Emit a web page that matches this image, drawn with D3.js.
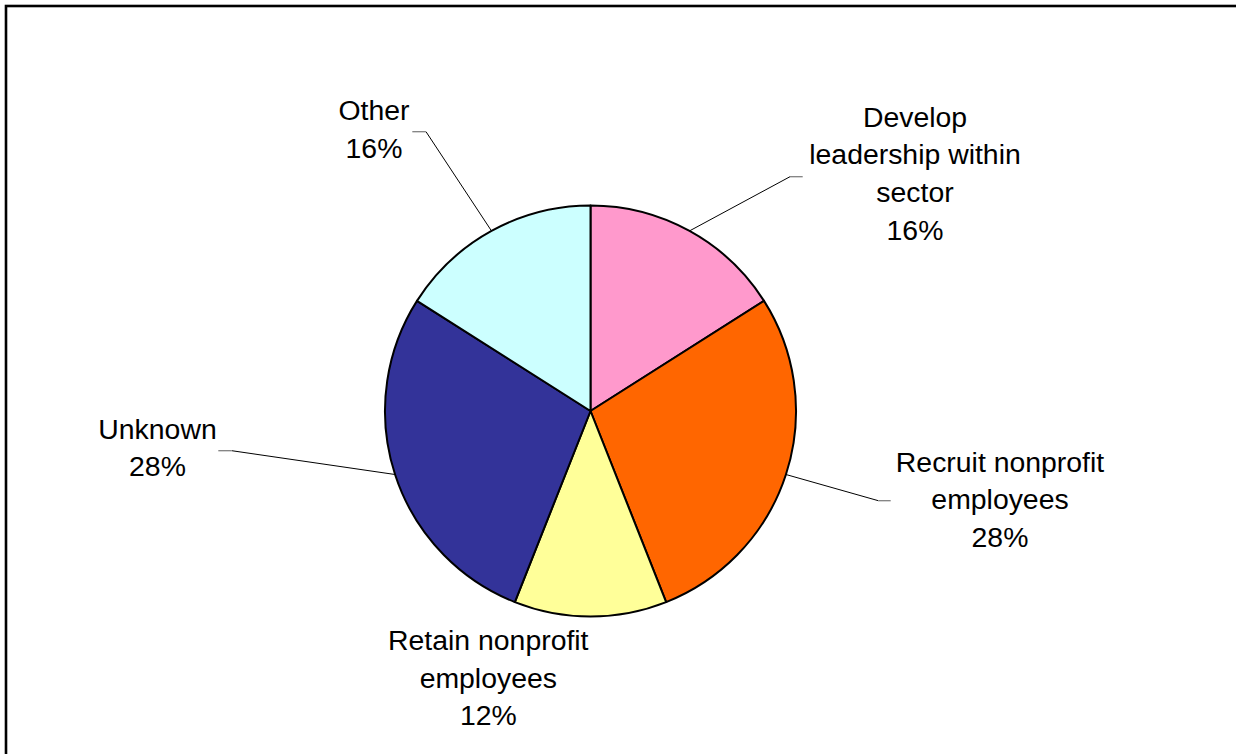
<!DOCTYPE html>
<html>
<head>
<meta charset="utf-8">
<script src="https://cdn.jsdelivr.net/npm/d3@7"></script>
<style>
  body { margin: 0; background: #fff; }
  svg { display: block; }
  text { font-family: "Liberation Sans", Arial, sans-serif; font-size: 28.4px; fill: #000; }
</style>
</head>
<body>
<div id="chart"></div>
<script>
const categories = [
  "Develop leadership within sector",
  "Recruit nonprofit employees",
  "Retain nonprofit employees",
  "Unknown",
  "Other"
];
const values = [16, 28, 12, 28, 16];
const colors = ["#FF99CC", "#FF6600", "#FFFF99", "#333399", "#CCFFFF"];

// how each label is broken into lines
const labelLines = [
  ["Develop", "leadership within", "sector"],
  ["Recruit nonprofit", "employees"],
  ["Retain nonprofit", "employees"],
  ["Unknown"],
  ["Other"]
];

const width = 1236;
const height = 754;
const cx = 590.5, cy = 411, radius = 205.5;
const lineHeight = 37.7;

// label block placement: centre x, first baseline y, leader elbow (null = no leader)
const labelLayout = [
  { x: 915, y: 126.7, elbow: [790, 176.7], end: [802.7, 176.7] },
  { x: 1000, y: 471.7, elbow: [878.3, 500.7], end: [890.7, 500.7] },
  { x: 488.3, y: 650, elbow: null },
  { x: 157.5, y: 438.5, elbow: [231.7, 450.7], end: [218.3, 450.7] },
  { x: 374, y: 120, elbow: [426, 131.7], end: [412.3, 131.7] }
];

const svg = d3.select("#chart")
  .append("svg")
  .attr("width", width)
  .attr("height", height);

// outer frame (right and bottom edges fall outside the picture)
svg.append("rect")
  .attr("x", 6)
  .attr("y", 6)
  .attr("width", 1250)
  .attr("height", 770)
  .attr("fill", "none")
  .attr("stroke", "#000")
  .attr("stroke-width", 2.6);

const total = d3.sum(values);
const pie = d3.pie().sort(null).value((d) => d);
const arcs = pie(values);
const arc = d3.arc().innerRadius(0).outerRadius(radius);

const g = svg.append("g").attr("transform", `translate(${cx},${cy})`);

g.selectAll(".slice")
  .data(arcs)
  .enter()
  .append("path")
  .attr("class", "slice")
  .attr("d", arc)
  .attr("fill", (d, i) => colors[i])
  .attr("stroke", "#000")
  .attr("stroke-width", 2)
  .attr("stroke-linejoin", "round");

// leader lines
arcs.forEach((d, i) => {
  const lay = labelLayout[i];
  if (!lay.elbow) return;
  const mid = (d.startAngle + d.endAngle) / 2;
  const sx = cx + radius * Math.sin(mid);
  const sy = cy - radius * Math.cos(mid);
  svg.append("line")
    .attr("x1", sx).attr("y1", sy)
    .attr("x2", lay.elbow[0]).attr("y2", lay.elbow[1])
    .attr("stroke", "#000")
    .attr("stroke-width", 1);
  svg.append("line")
    .attr("x1", lay.elbow[0]).attr("y1", lay.elbow[1])
    .attr("x2", lay.end[0]).attr("y2", lay.end[1])
    .attr("stroke", "#808080")
    .attr("stroke-width", 1.3);
});

// labels
arcs.forEach((d, i) => {
  const lay = labelLayout[i];
  const lines = labelLines[i].concat([Math.round((values[i] / total) * 100) + "%"]);
  const t = svg.append("text")
    .attr("text-anchor", "middle")
    .attr("x", lay.x)
    .attr("y", lay.y);
  lines.forEach((ln, j) => {
    t.append("tspan")
      .attr("x", lay.x)
      .attr("dy", j === 0 ? 0 : lineHeight)
      .text(ln);
  });
});
</script>
</body>
</html>
